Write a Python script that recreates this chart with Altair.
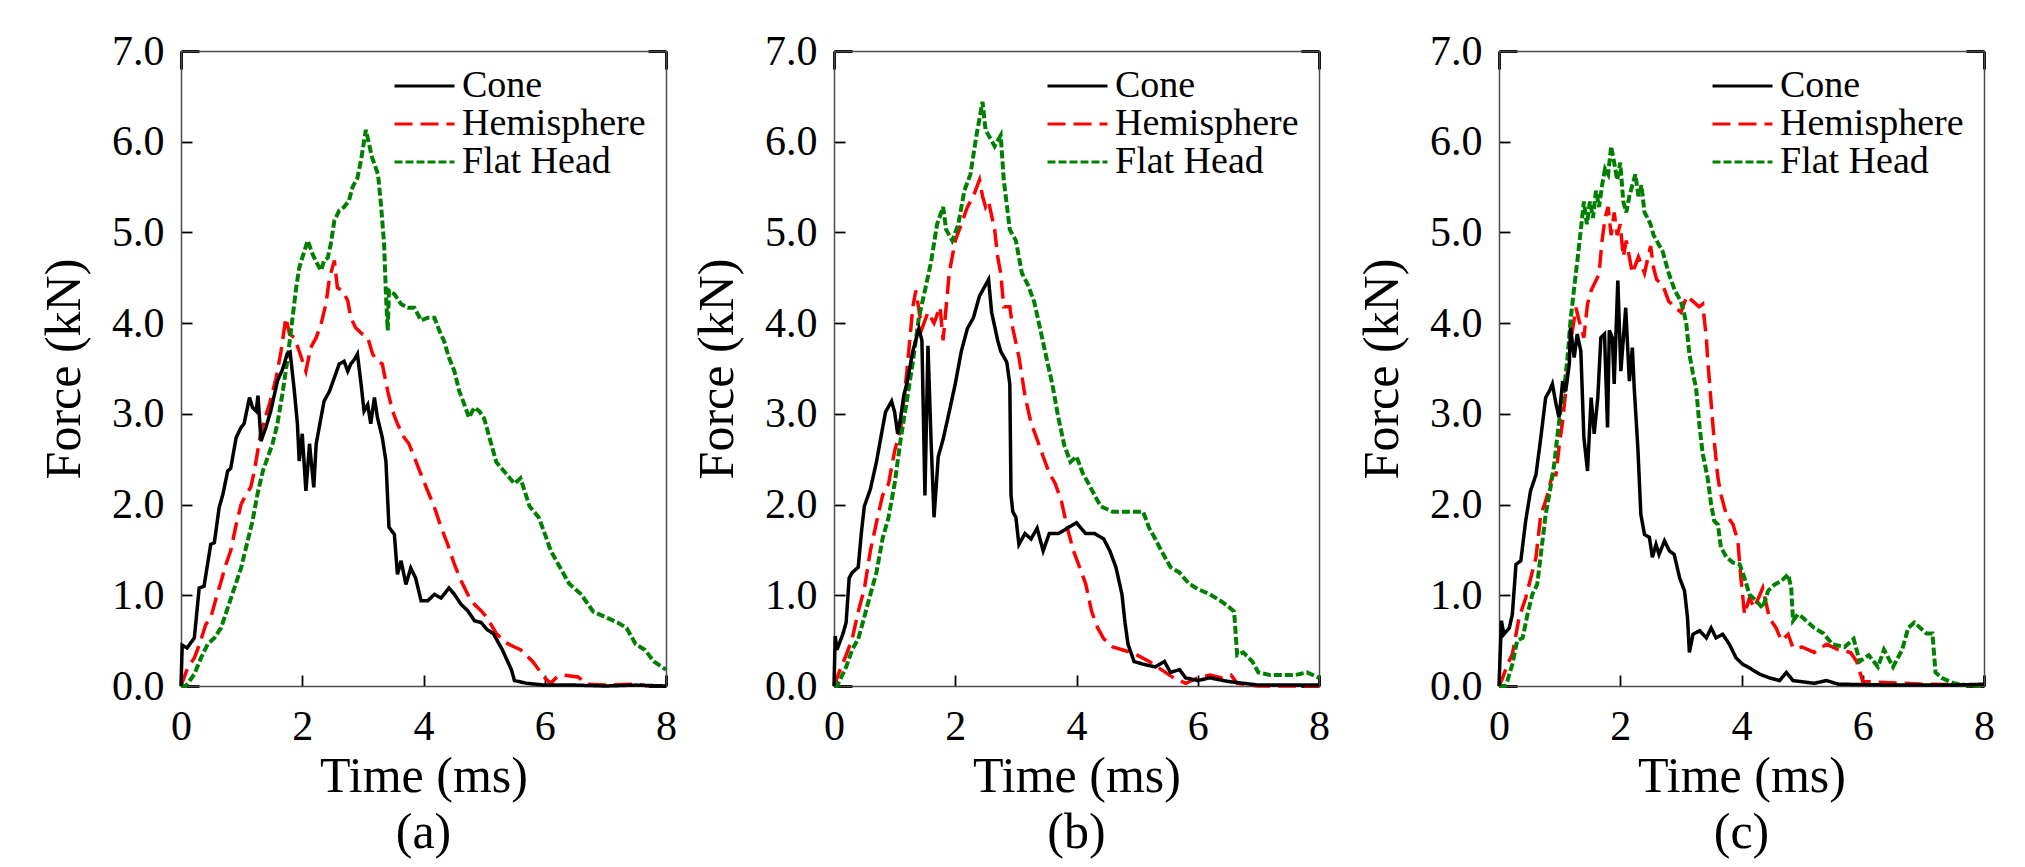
import altair as alt
import pandas as pd

FONT = "Liberation Serif"
SERIES = ["Cone", "Hemisphere", "Flat Head"]
DRAW_ORDER = ["Hemisphere", "Flat Head", "Cone"]
COLORS = ["#000000", "#ff0000", "#008000"]
DASHES = [[1, 0], [18, 8], [8, 3]]
WIDTHS = {"Cone": 3.5, "Hemisphere": 3.5, "Flat Head": 4}
X_TICKS = [0, 2, 4, 6, 8]
Y_TICKS = [0, 1, 2, 3, 4, 5, 6, 7]
PANEL_LABELS = ["(a)", "(b)", "(c)"]

# ---------------- panel (a) : (time ms, force kN) ----------------
A_CONE = [(0, 0), (0.02, 0.45), (0.1, 0.42), (0.22, 0.53), (0.3, 1.08), (0.38, 1.1), (0.49, 1.56), (0.55, 1.58),
          (0.63, 1.97), (0.69, 2.11), (0.77, 2.37), (0.82, 2.4), (0.91, 2.74), (0.99, 2.85), (1.04, 2.89), (1.13, 3.18),
          (1.18, 3.07), (1.24, 3.03), (1.27, 3.2), (1.32, 2.7), (1.4, 2.85), (1.48, 3.03), (1.59, 3.36), (1.68, 3.5),
          (1.75, 3.66), (1.8, 3.68), (1.87, 3.25), (1.92, 2.89), (1.95, 2.48), (2.0, 2.78), (2.06, 2.15), (2.12, 2.67),
          (2.19, 2.19), (2.23, 2.67), (2.31, 2.96), (2.36, 3.14), (2.45, 3.25), (2.53, 3.4), (2.61, 3.55), (2.69, 3.58),
          (2.75, 3.47), (2.8, 3.55), (2.86, 3.6), (2.91, 3.66), (2.97, 3.33), (3.02, 3.03), (3.08, 3.1), (3.13, 2.89),
          (3.19, 3.18), (3.24, 2.96), (3.32, 2.74), (3.38, 2.48), (3.43, 1.75), (3.52, 1.67), (3.57, 1.23), (3.63, 1.38),
          (3.71, 1.12), (3.79, 1.3), (3.87, 1.19), (3.96, 0.94), (4.07, 0.94), (4.18, 1.01), (4.29, 0.97), (4.42, 1.08),
          (4.51, 1.01), (4.62, 0.9), (4.73, 0.83), (4.84, 0.72), (4.95, 0.7), (5.05, 0.62), (5.15, 0.58), (5.3, 0.4),
          (5.45, 0.18), (5.5, 0.06), (5.7, 0.03), (6.0, 0.01), (6.5, 0.01), (7.0, 0.0), (7.5, 0.01), (8.0, 0.0)]
A_HEMI = [(0, 0), (0.11, 0.2), (0.22, 0.31), (0.3, 0.45), (0.41, 0.68), (0.49, 0.75), (0.58, 0.97), (0.66, 1.15),
          (0.74, 1.34), (0.82, 1.49), (0.91, 1.78), (0.99, 2.0), (1.07, 2.11), (1.15, 2.19), (1.21, 2.37), (1.32, 2.81),
          (1.46, 3.11), (1.57, 3.4), (1.65, 3.69), (1.73, 4.06), (1.79, 3.88), (1.87, 3.84), (1.95, 3.69), (2.06, 3.47),
          (2.14, 3.73), (2.23, 3.84), (2.31, 3.99), (2.39, 4.21), (2.45, 4.5), (2.53, 4.69), (2.58, 4.39), (2.66, 4.36),
          (2.75, 4.25), (2.8, 4.06), (2.88, 3.95), (2.99, 3.88), (3.08, 3.84), (3.16, 3.66), (3.24, 3.58), (3.32, 3.55),
          (3.41, 3.25), (3.49, 3.03), (3.57, 2.89), (3.68, 2.74), (3.76, 2.67), (3.85, 2.52), (3.96, 2.33), (4.07, 2.15),
          (4.18, 1.97), (4.29, 1.75), (4.4, 1.56), (4.51, 1.34), (4.62, 1.16), (4.73, 1.01), (4.84, 0.9), (4.95, 0.83),
          (5.05, 0.75), (5.2, 0.58), (5.35, 0.48), (5.5, 0.43), (5.6, 0.4), (5.8, 0.27), (6.0, 0.09), (6.1, 0.03),
          (6.2, 0.1), (6.3, 0.12), (6.55, 0.1), (6.7, 0.02), (7.0, 0.01), (7.5, 0.02), (7.7, 0.0)]
A_FLAT = [(0, 0), (0.08, 0), (0.22, 0.13), (0.33, 0.31), (0.44, 0.46), (0.55, 0.53), (0.66, 0.64), (0.77, 0.86),
          (0.88, 1.08), (0.99, 1.3), (1.1, 1.6), (1.18, 1.82), (1.26, 2.11), (1.35, 2.37), (1.43, 2.52), (1.51, 2.67),
          (1.59, 2.89), (1.68, 3.25), (1.76, 3.62), (1.84, 4.06), (1.9, 4.39), (1.95, 4.61), (2.0, 4.72), (2.09, 4.91),
          (2.17, 4.76), (2.25, 4.65), (2.31, 4.58), (2.36, 4.69), (2.42, 4.72), (2.47, 4.87), (2.53, 5.13), (2.61, 5.24),
          (2.69, 5.28), (2.77, 5.35), (2.83, 5.5), (2.91, 5.6), (2.97, 5.8), (3.05, 6.13), (3.15, 5.83), (3.25, 5.64),
          (3.3, 5.3), (3.35, 4.87), (3.38, 4.32), (3.41, 3.92), (3.43, 4.36), (3.52, 4.32), (3.63, 4.21), (3.74, 4.17),
          (3.85, 4.17), (3.96, 4.03), (4.07, 4.06), (4.18, 4.06), (4.26, 3.92), (4.34, 3.8), (4.42, 3.62), (4.51, 3.47),
          (4.59, 3.25), (4.67, 3.11), (4.75, 2.96), (4.84, 3.07), (4.92, 3.03), (5.0, 2.95), (5.1, 2.71), (5.2, 2.47),
          (5.35, 2.35), (5.5, 2.23), (5.6, 2.29), (5.75, 1.98), (5.9, 1.86), (6.0, 1.68), (6.1, 1.49), (6.25, 1.31),
          (6.4, 1.13), (6.6, 1.01), (6.8, 0.82), (7.0, 0.76), (7.2, 0.7), (7.35, 0.64), (7.5, 0.46), (7.65, 0.4),
          (7.8, 0.27), (8.0, 0.18)]

# ---------------- panel (b) ----------------
B_CONE = [(0, 0), (0.02, 0.55), (0.05, 0.4), (0.15, 0.58), (0.2, 0.7), (0.25, 1.19), (0.3, 1.25), (0.4, 1.31),
          (0.45, 1.68), (0.5, 1.98), (0.6, 2.17), (0.7, 2.47), (0.8, 2.84), (0.85, 3.02), (0.95, 3.14), (1.0, 3.02),
          (1.05, 2.78), (1.1, 2.96), (1.15, 3.2), (1.2, 3.33), (1.3, 3.69), (1.4, 3.94), (1.45, 3.81), (1.5, 2.1),
          (1.55, 3.75), (1.6, 2.72), (1.65, 1.86), (1.72, 2.53), (1.8, 2.72), (1.9, 3.02), (2.0, 3.33), (2.1, 3.69),
          (2.2, 3.94), (2.3, 4.06), (2.4, 4.3), (2.5, 4.42), (2.55, 4.48), (2.6, 4.12), (2.7, 3.81), (2.75, 3.69),
          (2.85, 3.57), (2.9, 3.33), (2.92, 2.1), (2.95, 1.92), (3.0, 1.86), (3.05, 1.56), (3.15, 1.68), (3.25, 1.62),
          (3.35, 1.74), (3.45, 1.49), (3.55, 1.68), (3.7, 1.68), (3.85, 1.74), (4.0, 1.8), (4.15, 1.68), (4.3, 1.68),
          (4.45, 1.62), (4.55, 1.49), (4.65, 1.31), (4.75, 1.01), (4.8, 0.7), (4.85, 0.46), (4.95, 0.27), (5.1, 0.24),
          (5.3, 0.21), (5.45, 0.27), (5.55, 0.15), (5.7, 0.18), (5.8, 0.09), (6.0, 0.06), (6.2, 0.09), (6.5, 0.05),
          (7.0, 0.01), (8.0, 0.01)]
B_HEMI = [(0, 0), (0.1, 0.18), (0.2, 0.34), (0.3, 0.52), (0.4, 0.82), (0.5, 1.07), (0.6, 1.49), (0.7, 1.8),
          (0.8, 2.1), (0.9, 2.23), (1.0, 2.59), (1.1, 2.84), (1.2, 3.45), (1.3, 4.18), (1.35, 4.36), (1.45, 3.94),
          (1.55, 4.12), (1.65, 4.0), (1.75, 4.18), (1.8, 3.81), (1.9, 4.55), (2.0, 4.91), (2.1, 5.09), (2.2, 5.28),
          (2.3, 5.4), (2.4, 5.58), (2.45, 5.4), (2.5, 5.28), (2.55, 5.34), (2.65, 5.03), (2.7, 4.73), (2.75, 4.55),
          (2.8, 4.18), (2.9, 4.18), (2.95, 3.94), (3.05, 3.63), (3.15, 3.2), (3.25, 2.9), (3.35, 2.72), (3.45, 2.53),
          (3.55, 2.35), (3.65, 2.23), (3.75, 2.04), (3.85, 1.74), (3.95, 1.49), (4.05, 1.31), (4.15, 1.13), (4.25, 0.82),
          (4.35, 0.64), (4.45, 0.52), (4.6, 0.43), (4.75, 0.4), (4.9, 0.37), (5.0, 0.34), (5.2, 0.27), (5.4, 0.18),
          (5.6, 0.09), (5.8, 0.03), (6.0, 0.09), (6.2, 0.12), (6.4, 0.09), (6.55, 0.12), (6.65, 0.03), (7.0, 0.0),
          (8.0, 0.0)]
B_FLAT = [(0, 0), (0.05, 0), (0.2, 0.21), (0.3, 0.4), (0.4, 0.52), (0.5, 0.76), (0.6, 1.01), (0.7, 1.25),
          (0.8, 1.62), (0.9, 1.86), (1.0, 2.23), (1.1, 2.72), (1.2, 3.14), (1.3, 3.57), (1.4, 4.06), (1.5, 4.36),
          (1.6, 4.67), (1.7, 5.09), (1.8, 5.28), (1.85, 5.03), (1.95, 4.91), (2.05, 5.09), (2.15, 5.46), (2.25, 5.64),
          (2.35, 6.07), (2.45, 6.44), (2.5, 6.13), (2.55, 6.07), (2.65, 5.95), (2.75, 6.07), (2.8, 5.58), (2.9, 5.03),
          (3.0, 4.91), (3.1, 4.55), (3.2, 4.42), (3.3, 4.24), (3.4, 3.94), (3.5, 3.63), (3.6, 3.33), (3.7, 2.96),
          (3.8, 2.65), (3.9, 2.47), (4.0, 2.53), (4.1, 2.35), (4.2, 2.23), (4.3, 2.1), (4.4, 1.98), (4.6, 1.92),
          (4.8, 1.92), (5.0, 1.92), (5.1, 1.92), (5.2, 1.74), (5.3, 1.62), (5.4, 1.49), (5.55, 1.31), (5.7, 1.25),
          (5.85, 1.13), (6.0, 1.07), (6.2, 1.01), (6.35, 0.95), (6.5, 0.88), (6.6, 0.82), (6.65, 0.34), (6.75, 0.37),
          (6.9, 0.27), (7.0, 0.15), (7.2, 0.12), (7.4, 0.12), (7.6, 0.12), (7.8, 0.15), (8.0, 0.09)]

# ---------------- panel (c) ----------------
C_CONE = [(0, 0), (0.04, 0.72), (0.08, 0.57), (0.17, 0.64), (0.22, 0.79), (0.28, 1.34), (0.36, 1.38), (0.44, 1.82),
          (0.52, 2.15), (0.61, 2.33), (0.69, 2.74), (0.77, 3.18), (0.83, 3.25), (0.88, 3.33), (0.94, 3.11), (0.99, 2.96),
          (1.05, 3.36), (1.1, 3.25), (1.16, 3.55), (1.18, 3.95), (1.24, 3.62), (1.29, 3.88), (1.35, 3.69), (1.4, 2.74),
          (1.46, 2.37), (1.52, 3.18), (1.57, 2.78), (1.63, 3.18), (1.68, 3.84), (1.74, 3.88), (1.79, 2.85), (1.82, 3.92),
          (1.87, 3.84), (1.9, 3.33), (1.96, 4.47), (2.01, 3.47), (2.09, 4.17), (2.15, 3.36), (2.2, 3.73), (2.23, 3.29),
          (2.29, 2.63), (2.34, 1.89), (2.4, 1.67), (2.48, 1.64), (2.53, 1.42), (2.59, 1.56), (2.64, 1.45), (2.73, 1.6),
          (2.81, 1.49), (2.89, 1.45), (2.98, 1.19), (3.06, 1.05), (3.11, 0.75), (3.14, 0.37), (3.2, 0.57), (3.31, 0.61),
          (3.42, 0.53), (3.5, 0.64), (3.58, 0.53), (3.69, 0.57), (3.8, 0.46), (3.91, 0.31), (4.02, 0.24), (4.13, 0.2),
          (4.3, 0.13), (4.46, 0.09), (4.63, 0.06), (4.74, 0.15), (4.85, 0.06), (5.2, 0.03), (5.4, 0.06), (5.6, 0.02),
          (6.5, 0.01), (7.5, 0.01), (8.0, 0.02)]
C_HEMI = [(0, 0), (0.06, 0.09), (0.14, 0.24), (0.22, 0.35), (0.33, 0.75), (0.44, 0.97), (0.61, 1.42), (0.69, 1.89),
          (0.77, 2.04), (0.83, 2.19), (0.88, 2.33), (0.94, 2.33), (0.99, 2.63), (1.05, 2.92), (1.1, 3.25), (1.16, 3.66),
          (1.21, 3.92), (1.27, 4.17), (1.32, 4.03), (1.4, 3.84), (1.46, 4.21), (1.52, 4.36), (1.6, 4.47), (1.65, 4.54),
          (1.7, 4.91), (1.75, 5.16), (1.8, 5.28), (1.85, 4.97), (1.9, 5.22), (1.95, 4.97), (2.0, 5.09), (2.05, 4.73),
          (2.1, 4.91), (2.2, 4.55), (2.3, 4.73), (2.4, 4.55), (2.5, 4.85), (2.55, 4.61), (2.6, 4.48), (2.7, 4.42),
          (2.8, 4.24), (2.9, 4.18), (3.0, 4.12), (3.1, 4.3), (3.2, 4.24), (3.3, 4.18), (3.36, 4.21), (3.42, 3.84),
          (3.44, 3.62), (3.5, 3.11), (3.55, 2.7), (3.61, 2.3), (3.66, 2.11), (3.75, 1.89), (3.86, 1.78), (3.94, 1.6),
          (3.99, 1.19), (4.05, 0.79), (4.13, 0.97), (4.21, 0.86), (4.35, 1.08), (4.46, 0.75), (4.57, 0.64), (4.66, 0.5),
          (4.77, 0.57), (4.85, 0.42), (4.93, 0.42), (5.0, 0.43), (5.2, 0.37), (5.4, 0.46), (5.6, 0.4), (5.8, 0.37),
          (5.9, 0.27), (6.0, 0.05), (7.0, 0.02), (8.0, 0.01)]
C_FLAT = [(0, 0), (0.1, 0.0), (0.14, 0.06), (0.22, 0.24), (0.3, 0.5), (0.39, 0.53), (0.47, 0.79), (0.55, 1.01),
          (0.63, 1.12), (0.69, 1.45), (0.77, 1.89), (0.85, 2.19), (0.91, 2.44), (0.96, 2.74), (1.02, 3.07), (1.07, 3.25),
          (1.13, 3.62), (1.18, 4.03), (1.24, 4.39), (1.3, 4.73), (1.35, 5.03), (1.4, 5.34), (1.45, 5.09), (1.5, 5.34),
          (1.55, 5.16), (1.6, 5.46), (1.65, 5.28), (1.7, 5.52), (1.75, 5.7), (1.8, 5.64), (1.85, 5.95), (1.9, 5.77),
          (1.95, 5.58), (2.0, 5.77), (2.05, 5.34), (2.1, 5.22), (2.15, 5.4), (2.2, 5.52), (2.25, 5.64), (2.3, 5.4),
          (2.35, 5.52), (2.4, 5.22), (2.45, 5.16), (2.5, 5.09), (2.55, 4.97), (2.6, 4.91), (2.7, 4.79), (2.8, 4.55),
          (2.9, 4.36), (3.0, 4.24), (3.05, 4.12), (3.09, 3.99), (3.14, 3.66), (3.2, 3.44), (3.25, 3.29), (3.31, 2.85),
          (3.36, 2.56), (3.44, 2.3), (3.5, 2.0), (3.55, 1.82), (3.61, 1.78), (3.66, 1.53), (3.75, 1.42), (3.86, 1.36),
          (3.97, 1.34), (4.05, 1.19), (4.13, 1.01), (4.24, 0.94), (4.35, 0.86), (4.44, 1.05), (4.55, 1.12), (4.66, 1.16),
          (4.77, 1.23), (4.82, 1.08), (4.85, 0.72), (4.93, 0.79), (5.0, 0.76), (5.2, 0.64), (5.35, 0.58), (5.5, 0.46),
          (5.7, 0.43), (5.85, 0.52), (5.95, 0.27), (6.1, 0.34), (6.25, 0.21), (6.35, 0.4), (6.5, 0.21), (6.65, 0.4),
          (6.75, 0.64), (6.85, 0.7), (6.95, 0.64), (7.05, 0.58), (7.15, 0.58), (7.2, 0.15), (7.3, 0.09), (7.5, 0.03),
          (7.8, 0.0), (8.0, 0.0)]

PANELS = [(A_CONE, A_HEMI, A_FLAT), (B_CONE, B_HEMI, B_FLAT), (C_CONE, C_HEMI, C_FLAT)]

PLOT_W, PLOT_H = 485, 635
AXIS_COLOR = "#4d4d4d"
TICK_COLOR = "#000000"


def make_frame(curves):
    rows = []
    for name, pts in zip(SERIES, curves):
        for i, (t, f) in enumerate(pts):
            rows.append({"t": t, "f": f, "series": name, "i": i})
    return pd.DataFrame(rows)


def legend():
    return alt.Legend(title=None, orient="none", legendX=212, legendY=17, padding=0,
                      labelFont=FONT, labelFontSize=38, labelColor="#000", labelOffset=6, labelLimit=0,
                      symbolType="stroke", symbolSize=3600, symbolStrokeWidth=3, rowPadding=0,
                      clipHeight=36)


def corner(test, a, b):
    return {"condition": {"test": test, "value": a}, "value": b}


def panel(curves, label):
    df = make_frame(curves)
    base = alt.Chart(df)
    x_end = "datum.value === 0 || datum.value === 8"
    y_end = "datum.value === 0 || datum.value === 7"
    # bottom axis: labels; its grid hangs from the top edge -> corner marks at x = 0 and 8
    x_main = alt.X("t:Q", scale=alt.Scale(domain=[0, 8], nice=False, zero=False),
                   axis=alt.Axis(values=X_TICKS, format="d", title="Time (ms)", ticks=False, grid=True,
                                 gridDash=[18, 3000], gridColor=TICK_COLOR, gridWidth=3,
                                 gridOpacity=corner(x_end, 1, 0), labelPadding=20,
                                 titlePadding=4, domainColor=AXIS_COLOR, domainWidth=1.5, labelFontSize=42,
                                 titleFontSize=50, labelFlush=False, labelColor="#000", titleColor="#000",
                                 labelFont=FONT, titleFont=FONT, titleFontWeight="normal"))
    y_main = alt.Y("f:Q", scale=alt.Scale(domain=[0, 7], nice=False, zero=False),
                   axis=alt.Axis(values=Y_TICKS, format=".1f", title="Force (kN)", ticks=False, grid=True,
                                 gridDash=corner(y_end, [18, 3000], [11, 3000]), gridColor=TICK_COLOR,
                                 gridWidth=corner(y_end, 3, 1.8), labelPadding=17,
                                 titlePadding=22, domainColor=AXIS_COLOR, domainWidth=1.5, labelFontSize=42,
                                 titleFontSize=50, labelFlush=False, labelColor="#000", titleColor="#000",
                                 labelFont=FONT, titleFont=FONT, titleFontWeight="normal"))
    color = alt.Color("series:N", scale=alt.Scale(domain=SERIES, range=COLORS), legend=legend())
    dash = alt.StrokeDash("series:N", scale=alt.Scale(domain=SERIES, range=DASHES), legend=legend())
    lines = alt.layer(*[
        base.transform_filter(alt.datum.series == name).mark_line(strokeWidth=WIDTHS[name]).encode(
            x=x_main, y=y_main, color=color, strokeDash=dash, order="i:Q")
        for name in DRAW_ORDER
    ])
    # top axis: grid starts at the bottom edge -> inward ticks along the bottom
    # right axis: grid starts at the right edge -> corner marks at y = 0 and 7
    frame = base.mark_line(opacity=0).encode(
        x=alt.X("t:Q", axis=alt.Axis(orient="top", values=X_TICKS, labels=False, ticks=False, title=None,
                                     grid=True, gridDash=[11, 3000], gridColor=TICK_COLOR,
                                     gridWidth=corner(x_end, 3, 1.8),
                                     domainColor=AXIS_COLOR, domainWidth=1.5)),
        y=alt.Y("f:Q", axis=alt.Axis(orient="right", values=[0, 7], labels=False, ticks=False, title=None,
                                     grid=True, gridDash=[18, 3000], gridColor=TICK_COLOR, gridWidth=3,
                                     domainColor=AXIS_COLOR, domainWidth=1.5)),
        detail="series:N", order="i:Q")
    return alt.layer(lines, frame).resolve_axis(x="independent", y="independent").properties(
        width=PLOT_W, height=PLOT_H,
        title=alt.TitleParams(label, orient="bottom", font=FONT, fontSize=50, fontWeight="normal",
                              color="#000", offset=7, frame="group", anchor="middle"))


charts = [panel(curves, label) for curves, label in zip(PANELS, PANEL_LABELS)]


def independent(c):
    return c.resolve_scale(color="independent", strokeDash="independent").resolve_legend(
        color="independent", strokeDash="independent")


right_pair = independent(alt.hconcat(charts[1], charts[2], spacing=27))
chart = independent(alt.hconcat(charts[0], right_pair, spacing=15)).properties(
    padding={"left": 31, "top": 21, "right": 5, "bottom": 0}
).configure_view(stroke=None).configure(font=FONT)

chart.save("out.html", embed_options={"renderer": "svg", "actions": False})
